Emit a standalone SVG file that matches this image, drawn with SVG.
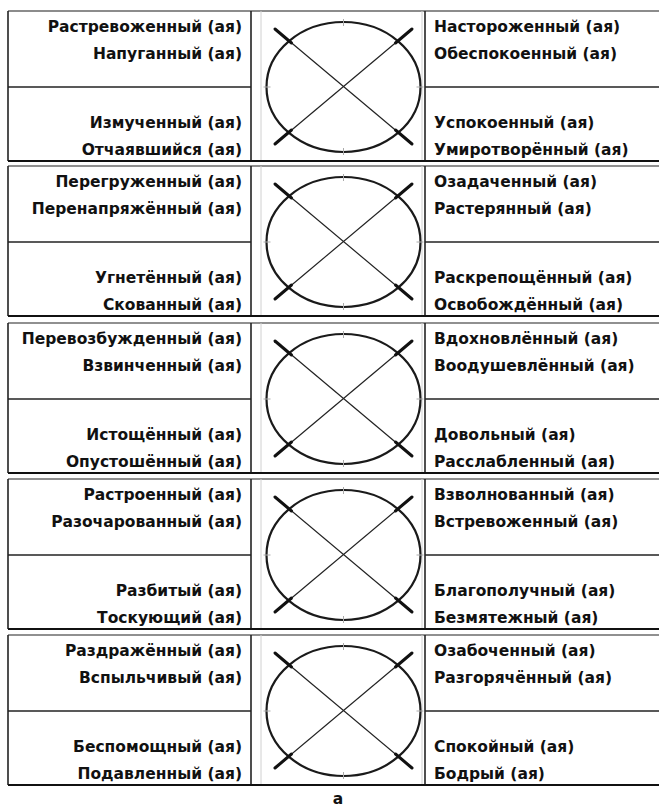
<svg xmlns="http://www.w3.org/2000/svg" xmlns:xlink="http://www.w3.org/1999/xlink" width="659" height="808" viewBox="0 0 659 808">
<style>
.t{font-family:"DejaVu Sans","Liberation Sans",sans-serif;font-weight:bold;font-size:15.5px;fill:#111}
.l{text-anchor:end}
.r{text-anchor:start}
.hl{stroke:#111;stroke-width:1.8}
.thin{stroke:#222;stroke-width:1.3}
.col{stroke:#222;stroke-width:1.6}
.gr{stroke:#d0d0d0;stroke-width:1}
</style>
<defs>
<g id="gauge">
<ellipse cx="0" cy="0" rx="77" ry="65" fill="none" stroke="#1a1a1a" stroke-width="2.2"/>
<line x1="-68.5" y1="-58" x2="68.5" y2="57" stroke="#222" stroke-width="1.2"/>
<line x1="68.5" y1="-58" x2="-68.5" y2="57" stroke="#222" stroke-width="1.2"/>
<g stroke="#111" stroke-width="3" stroke-linecap="round">
<line x1="-68.5" y1="-58" x2="-52" y2="-44"/>
<line x1="68.5" y1="-58" x2="52" y2="-44"/>
<line x1="-68.5" y1="57" x2="-52" y2="43"/>
<line x1="68.5" y1="57" x2="52" y2="43"/>
</g>
<g stroke="#aaa" stroke-width="1">
<line x1="0" y1="-68" x2="0" y2="-61"/>
<line x1="0" y1="61" x2="0" y2="68"/>
<line x1="-80" y1="0" x2="-73" y2="0"/>
<line x1="73" y1="0" x2="80" y2="0"/>
</g>
</g>
<g id="frame">
<line class="gr" x1="261" y1="0" x2="261" y2="150"/>
<line class="gr" x1="422" y1="0" x2="422" y2="150"/>
<line class="col" x1="251" y1="0" x2="251" y2="150"/>
<line class="col" x1="425" y1="0" x2="425" y2="150"/>
<line class="col" x1="8" y1="0" x2="8" y2="150"/>
<line class="thin" x1="8" y1="76" x2="251" y2="76"/>
<line class="thin" x1="425" y1="76" x2="659" y2="76"/>
<line class="hl" x1="8" y1="150" x2="659" y2="150"/>
</g>
</defs>
<rect width="659" height="808" fill="#fff"/>
<line x1="8" y1="11" x2="659" y2="11" stroke="#666" stroke-width="1.5"/>
<g id="block1" transform="translate(0,11)">
<use xlink:href="#frame"/>
<use xlink:href="#gauge" x="343.5" y="76"/>
<text class="t l" x="242" y="21">Растревоженный (ая)</text>
<text class="t l" x="242" y="48">Напуганный (ая)</text>
<text class="t l" x="242" y="117">Измученный (ая)</text>
<text class="t l" x="242" y="144">Отчаявшийся (ая)</text>
<text class="t r" x="434" y="21">Настороженный (ая)</text>
<text class="t r" x="434" y="48">Обеспокоенный (ая)</text>
<text class="t r" x="434" y="117">Успокоенный (ая)</text>
<text class="t r" x="434" y="144">Умиротворённый (ая)</text>
</g>
<g id="block2" transform="translate(0,166)">
<line x1="8" y1="0" x2="659" y2="0" stroke="#222" stroke-width="1.2"/>
<use xlink:href="#frame"/>
<use xlink:href="#gauge" x="343.5" y="76"/>
<text class="t l" x="242" y="21">Перегруженный (ая)</text>
<text class="t l" x="242" y="48">Перенапряжённый (ая)</text>
<text class="t l" x="242" y="117">Угнетённый (ая)</text>
<text class="t l" x="242" y="144">Скованный (ая)</text>
<text class="t r" x="434" y="21">Озадаченный (ая)</text>
<text class="t r" x="434" y="48">Растерянный (ая)</text>
<text class="t r" x="434" y="117">Раскрепощённый (ая)</text>
<text class="t r" x="434" y="144">Освобождённый (ая)</text>
</g>
<g id="block3" transform="translate(0,323)">
<line x1="8" y1="0" x2="659" y2="0" stroke="#222" stroke-width="1.2"/>
<use xlink:href="#frame"/>
<use xlink:href="#gauge" x="343.5" y="76"/>
<text class="t l" x="242" y="21">Перевозбужденный (ая)</text>
<text class="t l" x="242" y="48">Взвинченный (ая)</text>
<text class="t l" x="242" y="117">Истощённый (ая)</text>
<text class="t l" x="242" y="144">Опустошённый (ая)</text>
<text class="t r" x="434" y="21">Вдохновлённый (ая)</text>
<text class="t r" x="434" y="48">Воодушевлённый (ая)</text>
<text class="t r" x="434" y="117">Довольный (ая)</text>
<text class="t r" x="434" y="144">Расслабленный (ая)</text>
</g>
<g id="block4" transform="translate(0,479)">
<line x1="8" y1="0" x2="659" y2="0" stroke="#222" stroke-width="1.2"/>
<use xlink:href="#frame"/>
<use xlink:href="#gauge" x="343.5" y="76"/>
<text class="t l" x="242" y="21">Растроенный (ая)</text>
<text class="t l" x="242" y="48">Разочарованный (ая)</text>
<text class="t l" x="242" y="117">Разбитый (ая)</text>
<text class="t l" x="242" y="144">Тоскующий (ая)</text>
<text class="t r" x="434" y="21">Взволнованный (ая)</text>
<text class="t r" x="434" y="48">Встревоженный (ая)</text>
<text class="t r" x="434" y="117">Благополучный (ая)</text>
<text class="t r" x="434" y="144">Безмятежный (ая)</text>
</g>
<g id="block5" transform="translate(0,635)">
<line x1="8" y1="0" x2="659" y2="0" stroke="#222" stroke-width="1.2"/>
<use xlink:href="#frame"/>
<use xlink:href="#gauge" x="343.5" y="76"/>
<text class="t l" x="242" y="21">Раздражённый (ая)</text>
<text class="t l" x="242" y="48">Вспыльчивый (ая)</text>
<text class="t l" x="242" y="117">Беспомощный (ая)</text>
<text class="t l" x="242" y="144">Подавленный (ая)</text>
<text class="t r" x="434" y="21">Озабоченный (ая)</text>
<text class="t r" x="434" y="48">Разгорячённый (ая)</text>
<text class="t r" x="434" y="117">Спокойный (ая)</text>
<text class="t r" x="434" y="144">Бодрый (ая)</text>
</g>
<text class="t" x="338" y="804" text-anchor="middle" font-size="13">а</text>
</svg>
